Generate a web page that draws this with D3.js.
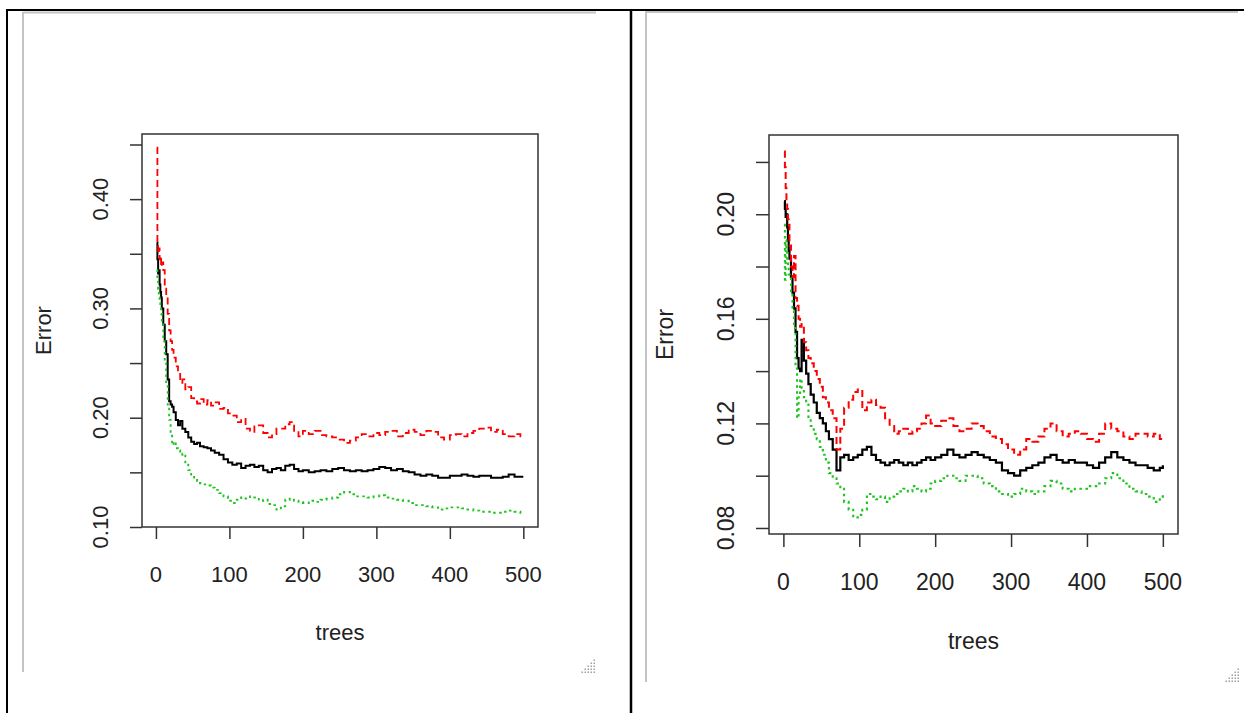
<!DOCTYPE html>
<html>
<head>
<meta charset="utf-8">
<script src="https://cdn.jsdelivr.net/npm/d3@7"></script>
<style>
body { margin: 0; background: #fff; }
text { font-family: "Liberation Sans", Arial, sans-serif; fill: #222; }
</style>
</head>
<body>
<script>
var trees = [1,2,3,4,5,6,7,8,
  10,12,14,16,18,20,22,24,
  27,30,33,36,
  40,44,48,52,56,60,
  65,70,75,80,
  86,92,98,104,110,116,122,128,134,140,
  146,152,158,164,170,176,182,188,194,200,
  208,216,224,232,240,248,256,264,272,280,
  288,296,304,312,320,328,336,344,352,360,
  368,376,384,392,400,408,416,424,432,440,
  448,456,464,472,480,488,496,500];

// left plot
var oobLeft = [.360,.345,.332,.335,.322,.315,.310,.300,
  .285,.270,.258,.235,.215,.212,.210,.205,
  .198,.193,.197,.190,
  .187,.182,.178,.176,.177,.174,
  .173,.172,.170,.168,
  .166,.162,.159,.157,.158,.154,.156,.157,.155,.156,
  .152,.150,.153,.154,.152,.156,.157,.153,.151,.152,
  .150,.151,.152,.151,.153,.154,.152,.151,.152,.151,
  .152,.153,.155,.154,.152,.153,.151,.150,.148,.147,
  .148,.147,.145,.145,.147,.147,.148,.147,.146,.147,
  .147,.145,.145,.146,.148,.146,.146,.146];
var class1Left = [.447,.360,.350,.355,.345,.348,.338,.342,
  .335,.318,.310,.295,.280,.270,.262,.255,
  .247,.240,.232,.235,
  .226,.228,.218,.215,.213,.217,
  .212,.216,.211,.214,
  .208,.209,.204,.202,.196,.199,.190,.187,.192,.193,
  .186,.182,.185,.190,.190,.194,.196,.188,.183,.188,
  .185,.188,.184,.183,.182,.180,.177,.179,.182,.185,
  .183,.186,.184,.187,.188,.183,.186,.189,.187,.184,
  .188,.187,.182,.180,.184,.185,.183,.186,.188,.190,
  .191,.187,.189,.185,.183,.185,.183,.184];
var class2Left = [.335,.325,.318,.310,.307,.300,.295,.288,
  .270,.250,.230,.212,.198,.185,.175,.178,
  .172,.170,.166,.167,
  .158,.152,.148,.144,.142,.140,
  .139,.138,.136,.134,
  .131,.128,.124,.122,.125,.127,.126,.128,.127,.124,
  .125,.121,.120,.116,.119,.125,.126,.124,.123,.122,
  .124,.123,.125,.126,.127,.130,.132,.130,.128,.128,
  .127,.128,.129,.127,.126,.125,.124,.122,.120,.120,
  .119,.118,.116,.117,.118,.118,.117,.116,.115,.114,
  .114,.113,.113,.114,.115,.114,.113,.114];

// right plot
var oobRight = [.205,.202,.199,.200,.195,.190,.186,.183,
  .176,.170,.164,.155,.145,.141,.140,.152,
  .144,.139,.135,.131,
  .128,.124,.122,.120,.117,.114,
  .110,.102,.107,.108,
  .106,.107,.108,.110,.111,.108,.106,.105,.104,.105,
  .106,.105,.104,.105,.104,.105,.106,.107,.106,.107,
  .108,.110,.108,.107,.108,.109,.108,.107,.106,.105,
  .102,.101,.100,.102,.103,.104,.105,.107,.108,.106,
  .105,.106,.105,.105,.104,.103,.105,.107,.109,.107,
  .106,.105,.104,.104,.103,.102,.103,.104];
var class1Right = [.224,.218,.210,.205,.202,.198,.196,.188,
  .180,.176,.184,.168,.165,.160,.157,.158,
  .151,.148,.145,.143,
  .140,.137,.134,.130,.128,.125,
  .122,.110,.118,.126,
  .129,.132,.133,.125,.128,.129,.127,.126,.122,.119,
  .116,.117,.118,.116,.117,.118,.120,.123,.120,.119,
  .121,.122,.119,.117,.118,.120,.119,.117,.115,.114,
  .112,.110,.108,.110,.114,.113,.115,.118,.120,.117,
  .115,.116,.117,.116,.114,.113,.116,.120,.118,.117,
  .115,.114,.116,.116,.115,.116,.114,.113];
var class2Right = [.196,.175,.190,.186,.182,.180,.177,.176,
  .170,.163,.157,.141,.122,.130,.137,.133,
  .130,.128,.122,.119,
  .116,.114,.111,.108,.105,.101,
  .099,.097,.095,.090,
  .087,.084,.085,.087,.093,.092,.091,.092,.090,.092,
  .093,.094,.095,.094,.096,.095,.094,.095,.097,.098,
  .099,.100,.099,.098,.100,.100,.099,.097,.096,.094,
  .093,.092,.093,.095,.094,.093,.094,.096,.098,.097,
  .095,.094,.095,.095,.096,.096,.097,.099,.101,.099,
  .097,.095,.094,.093,.092,.090,.092,.093];

var xTicks = [0,100,200,300,400,500];
var yTicksLeft = [0.10,0.15,0.20,0.25,0.30,0.35,0.40,0.45];
var yLabelsLeft = [0.10,0.20,0.30,0.40];
var yTicksRight = [0.08,0.10,0.12,0.14,0.16,0.18,0.20,0.22];
var yLabelsRight = [0.08,0.12,0.16,0.20];

var W = 1244, H = 713;
var svg = d3.select("body").append("svg")
  .attr("width", W)
  .attr("height", H);

// the page table around the two pictures
var frame = svg.append("g").attr("fill", "none");
frame.append("line").attr("x1", 6).attr("x2", W).attr("y1", 10).attr("y2", 10)
  .attr("stroke", "#000").attr("stroke-width", 2);
frame.append("line").attr("x1", 7).attr("x2", 7).attr("y1", 9).attr("y2", H)
  .attr("stroke", "#000").attr("stroke-width", 2);
frame.append("line").attr("x1", 631).attr("x2", 631).attr("y1", 9).attr("y2", H)
  .attr("stroke", "#000").attr("stroke-width", 2.5);
frame.append("line").attr("x1", 23).attr("x2", 596).attr("y1", 12.5).attr("y2", 12.5)
  .attr("stroke", "#c4c4c4").attr("stroke-width", 2);
frame.append("line").attr("x1", 23).attr("x2", 23).attr("y1", 12).attr("y2", 672)
  .attr("stroke", "#c4c4c4").attr("stroke-width", 2);
frame.append("line").attr("x1", 646).attr("x2", 1238).attr("y1", 12).attr("y2", 12)
  .attr("stroke", "#c4c4c4").attr("stroke-width", 2);
frame.append("line").attr("x1", 646).attr("x2", 646).attr("y1", 11).attr("y2", 682)
  .attr("stroke", "#c4c4c4").attr("stroke-width", 2);

function grip(x, y) {
  for (var i = 0; i < 5; i++) {
    for (var j = 0; i + j < 5; j++) {
      svg.append("rect")
        .attr("x", x - 3 * j - 1.5).attr("y", y - 3 * i - 1.5)
        .attr("width", 1.5).attr("height", 1.5)
        .attr("fill", "#a0a0a0");
    }
  }
}
grip(595, 673);
grip(1239, 682);

function plot_error(p) {
  var x = d3.scaleLinear().domain([-18.96, 519.96]).range([p.left, p.right]);
  var y = d3.scaleLinear().domain(p.yDomain).range([p.bottom, p.top]);
  var g = svg.append("g");

  // error rates change in steps from one tree to the next
  var line = d3.line()
    .curve(d3.curveStepAfter)
    .x(function(d) { return x(d[0]); })
    .y(function(d) { return y(d[1]); });

  p.series.forEach(function(s) {
    g.append("path")
      .datum(d3.zip(trees, s.values))
      .attr("d", line)
      .attr("fill", "none")
      .attr("stroke", s.color)
      .attr("stroke-width", s.width)
      .attr("stroke-dasharray", s.dash);
  });

  g.append("rect")
    .attr("x", p.left).attr("y", p.top)
    .attr("width", p.right - p.left).attr("height", p.bottom - p.top)
    .attr("fill", "none").attr("stroke", "#333").attr("stroke-width", 1.5);

  var xAxis = d3.axisBottom(x).tickValues(xTicks).tickSize(p.tick).tickFormat("");
  g.append("g")
    .attr("transform", "translate(0," + p.bottom + ")")
    .attr("color", "#333")
    .call(xAxis)
    .call(function(a) { a.select(".domain").remove(); a.selectAll("line").attr("stroke-width", 1.5); });

  var yAxis = d3.axisLeft(y).tickValues(p.yTicks).tickSize(p.tick).tickFormat("");
  g.append("g")
    .attr("transform", "translate(" + p.left + ",0)")
    .attr("color", "#333")
    .call(yAxis)
    .call(function(a) { a.select(".domain").remove(); a.selectAll("line").attr("stroke-width", 1.5); });

  g.selectAll(".xlab").data(xTicks).enter()
    .append("text")
    .attr("class", "xlab")
    .attr("x", function(d) { return x(d); })
    .attr("y", p.xLabelY)
    .attr("text-anchor", "middle")
    .style("font-size", p.font + "px")
    .text(function(d) { return d; });

  g.selectAll(".ylab").data(p.yLabels).enter()
    .append("text")
    .attr("class", "ylab")
    .attr("transform", function(d) { return "translate(" + p.yLabelX + "," + y(d) + ") rotate(-90)"; })
    .attr("text-anchor", "middle")
    .style("font-size", p.font + "px")
    .text(function(d) { return d3.format(".2f")(d); });

  g.append("text")
    .attr("x", (p.left + p.right) / 2)
    .attr("y", p.titleY)
    .attr("text-anchor", "middle")
    .style("font-size", p.font + "px")
    .text("trees");

  g.append("text")
    .attr("transform", "translate(" + p.errorX + "," + (p.top + p.bottom) / 2 + ") rotate(-90)")
    .attr("text-anchor", "middle")
    .style("font-size", p.font + "px")
    .text("Error");
}

plot_error({
  left: 142, right: 538, top: 134, bottom: 527,
  yDomain: [0.10, 0.4596], yTicks: yTicksLeft, yLabels: yLabelsLeft,
  tick: 12, font: 22, xLabelY: 582, titleY: 640, yLabelX: 108, errorX: 51,
  series: [
    {values: oobLeft, color: "#000", dash: null, width: 2},
    {values: class1Left, color: "#f00", dash: "7,4", width: 1.8},
    {values: class2Left, color: "#1fc41f", dash: "2.5,3.5", width: 1.9}
  ]
});

plot_error({
  left: 769, right: 1178, top: 135, bottom: 534,
  yDomain: [0.0777, 0.2303], yTicks: yTicksRight, yLabels: yLabelsRight,
  tick: 13, font: 23, xLabelY: 590, titleY: 649, yLabelX: 734, errorX: 673,
  series: [
    {values: oobRight, color: "#000", dash: null, width: 2.2},
    {values: class1Right, color: "#f00", dash: "7,4", width: 2},
    {values: class2Right, color: "#1fc41f", dash: "2.5,3.5", width: 2.1}
  ]
});
</script>
</body>
</html>
